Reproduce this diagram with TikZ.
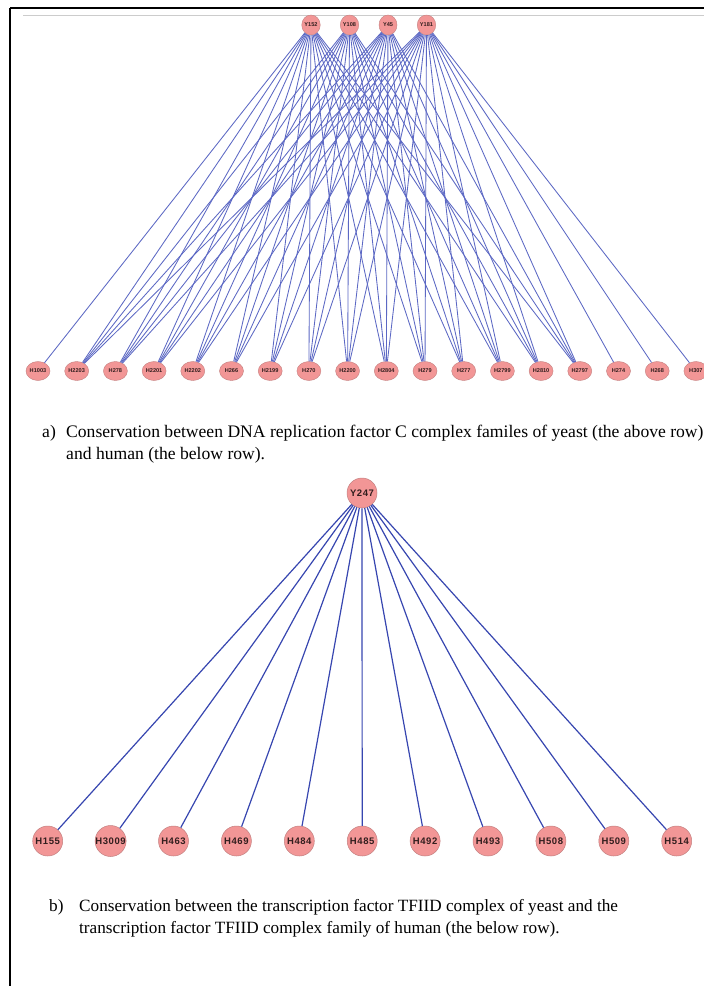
\documentclass[tikz,border=0pt]{standalone}
\usepackage{fontspec}
\setmainfont{Liberation Serif}
\newfontfamily\lab{Liberation Sans}
\newfontfamily\labsp[LetterSpace=6]{Liberation Sans}
\usetikzlibrary{shapes.geometric}
\definecolor{nodefill}{RGB}{242,150,150}
\definecolor{nodeline}{RGB}{196,128,128}
\definecolor{edgeA}{RGB}{92,104,196}
\definecolor{edgeB}{RGB}{55,70,176}
\definecolor{labtxt}{RGB}{50,30,30}
\begin{document}
\begin{tikzpicture}[x=1pt,y=-1pt,
 smallnode/.style={ellipse,draw=nodeline,fill=nodefill,line width=0.4pt,inner sep=0pt,minimum width=24pt,minimum height=19pt,font=\lab\bfseries\fontsize{5.6}{6}\selectfont,text=labtxt},
 topnode/.style={smallnode,minimum width=18pt,minimum height=20pt},
 bignode/.style={circle,draw=nodeline,fill=nodefill,line width=0.5pt,inner sep=0pt,minimum size=30pt,font=\labsp\bfseries\fontsize{9.5}{10}\selectfont,text=labtxt},
 edgea/.style={draw=edgeA,line width=0.85pt},
 edgeb/.style={draw=edgeB,line width=1.2pt},
 captxt/.style={anchor=base west,inner sep=0pt,font=\fontsize{17.6}{20}\selectfont},
 captxtb/.style={anchor=base west,inner sep=0pt,font=\fontsize{17.2}{20}\selectfont}]
\useasboundingbox (0,0) rectangle (704,986);
\clip (0,0) rectangle (704,986);
\fill[white] (0,0) rectangle (704,986);
\draw[line width=1.3pt] (10,8) -- (704,8);
\draw[line width=1.3pt] (10,8) -- (10,986);
\draw[black!20,line width=1pt] (23,15) -- (704,15);
% part a
\foreach \n/\x in {Y152/311,Y108/349.5,Y45/388,Y181/426.5}
  \node[topnode] (\n) at (\x,25) {\n};
\foreach \n [count=\i from 0] in {H1003,H2203,H278,H2201,H2202,H266,H2199,H270,H2200,H2804,H279,H277,H2799,H2810,H2797,H274,H268,H307}
  \node[smallnode] (\n) at ({38+38.7*\i},371) {\n};
\foreach \t in {Y152,Y108,Y45,Y181}
  \foreach \b in {H2203,H278,H2201,H2202,H266,H2199,H270,H2200,H2804,H279,H277,H2799,H2810,H2797}
    \draw[edgea] (\t) -- (\b);
\draw[edgea] (Y152) -- (H1003);
\foreach \b in {H274,H268,H307}
  \draw[edgea] (Y181) -- (\b);
% part b
\node[bignode] (Y247) at (362,493) {Y247};
\foreach \n [count=\i from 0] in {H155,H3009,H463,H469,H484,H485,H492,H493,H508,H509,H514}
  \node[bignode] (\n) at ({47.7+62.9*\i},841) {\n};
\foreach \n in {H155,H3009,H463,H469,H484,H485,H492,H493,H508,H509,H514}
  \draw[edgeb] (Y247) -- (\n);
% captions
\node[captxt] (ca0) at (42,437) {a)};
\node[captxt] (ca1) at (66,437) {Conservation between DNA replication factor C complex familes of yeast (the above row)};
\node[captxt] (ca2) at (66,459) {and human (the below row).};
\node[captxtb] (cb0) at (49,911) {b)};
\node[captxtb] (cb1) at (79,911) {Conservation between the transcription factor TFIID complex of yeast and the};
\node[captxtb] (cb2) at (79,933) {transcription factor TFIID complex family of human (the below row).};
\end{tikzpicture}
\end{document}
